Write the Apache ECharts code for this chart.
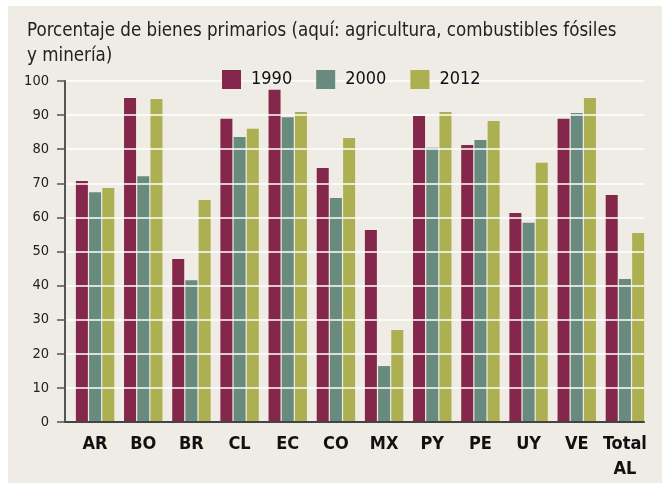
<!DOCTYPE html>
<html>
<head>
<meta charset="utf-8">
<script src="https://cdn.jsdelivr.net/npm/echarts@6/dist/echarts.min.js"></script>
<style>
  html, body { margin: 0; padding: 0; background: #ffffff; }
  #main { width: 662px; height: 483px; }
</style>
</head>
<body>
<div id="main"></div>
<script>
// datos
const categories = ['AR', 'BO', 'BR', 'CL', 'EC', 'CO', 'MX', 'PY', 'PE', 'UY', 'VE', 'Total\nAL'];
const years = ['1990', '2000', '2012'];
const v1990 = [70.7, 95.0, 47.8, 88.9, 97.4, 74.5, 56.3, 89.7, 81.2, 61.3, 88.9, 66.6];
const v2000 = [67.4, 72.1, 41.6, 83.6, 89.4, 65.7, 16.4, 80.4, 82.7, 58.4, 90.6, 41.9];
const v2012 = [68.6, 94.7, 65.1, 86.0, 90.9, 83.3, 27.0, 90.9, 88.3, 76.0, 95.0, 55.4];
const colors = ['#84274a', '#698a7e', '#adb051'];

const font = '"DejaVu Sans Condensed", "Liberation Sans Narrow", Roboto, sans-serif';

let chart = echarts.init(document.getElementById('main'));
let option = {
  animation: false,
  backgroundColor: '#ffffff',
  textStyle: { fontFamily: font },
  graphic: [
    // fondo beige del panel
    { type: 'rect', left: 8, top: 6, z: -10, shape: { width: 654, height: 477 }, style: { fill: '#efebe5' } }
  ],
  title: {
    text: 'Porcentaje de bienes primarios (aquí: agricultura, combustibles fósiles\ny minería)',
    left: 22,
    top: 14,
    textStyle: { fontFamily: font, fontSize: 18.6, fontWeight: 'normal', color: '#222', lineHeight: 25 }
  },
  legend: {
    data: years,
    left: 222,
    top: 70,
    padding: 0,
    z: 10,
    itemWidth: 19,
    itemHeight: 19,
    itemGap: 24,
    icon: 'rect',
    textStyle: { fontFamily: font, fontSize: 18, color: '#111', padding: [0, 0, 0, 5] }
  },
  grid: [
    // rejilla de los ejes
    { left: 65, right: 18, top: 81, bottom: 61 },
    // rejilla de las barras
    { left: 71, right: 13, top: 81, bottom: 61 }
  ],
  xAxis: [
    {
      gridIndex: 0, type: 'category', data: categories, z: 5,
      axisLine: { lineStyle: { color: '#444', width: 2 } },
      axisTick: { show: false },
      axisLabel: { show: false }
    },
    {
      gridIndex: 1, type: 'category', data: categories,
      axisLine: { show: false },
      axisTick: { show: false },
      axisLabel: { interval: 0, fontFamily: font, fontSize: 18, fontWeight: 'bold', color: '#111', margin: 10, lineHeight: 25 }
    }
  ],
  yAxis: [
    {
      gridIndex: 0, type: 'value', min: 0, max: 100, interval: 10, z: 5,
      axisLine: { show: true, lineStyle: { color: '#555', width: 2 } },
      axisTick: { show: true, length: 8, lineStyle: { color: '#555', width: 1.5 } },
      axisLabel: { fontFamily: font, fontSize: 14.5, color: '#222', margin: 16 },
      splitLine: { show: true, showMinLine: false, lineStyle: { color: '#ffffff', width: 1.5 } }
    },
    {
      gridIndex: 1, type: 'value', min: 0, max: 100, interval: 10,
      axisLine: { show: false }, axisTick: { show: false }, axisLabel: { show: false },
      splitLine: { show: false }
    }
  ],
  series: [
    { name: years[0], type: 'bar', xAxisIndex: 1, yAxisIndex: 1, data: v1990, barWidth: 12, barGap: '10%', itemStyle: { color: colors[0] } },
    { name: years[1], type: 'bar', xAxisIndex: 1, yAxisIndex: 1, data: v2000, barWidth: 12, barGap: '10%', itemStyle: { color: colors[1] } },
    { name: years[2], type: 'bar', xAxisIndex: 1, yAxisIndex: 1, data: v2012, barWidth: 12, barGap: '10%', itemStyle: { color: colors[2] } }
  ]
};
option && chart.setOption(option);
</script>
</body>
</html>
